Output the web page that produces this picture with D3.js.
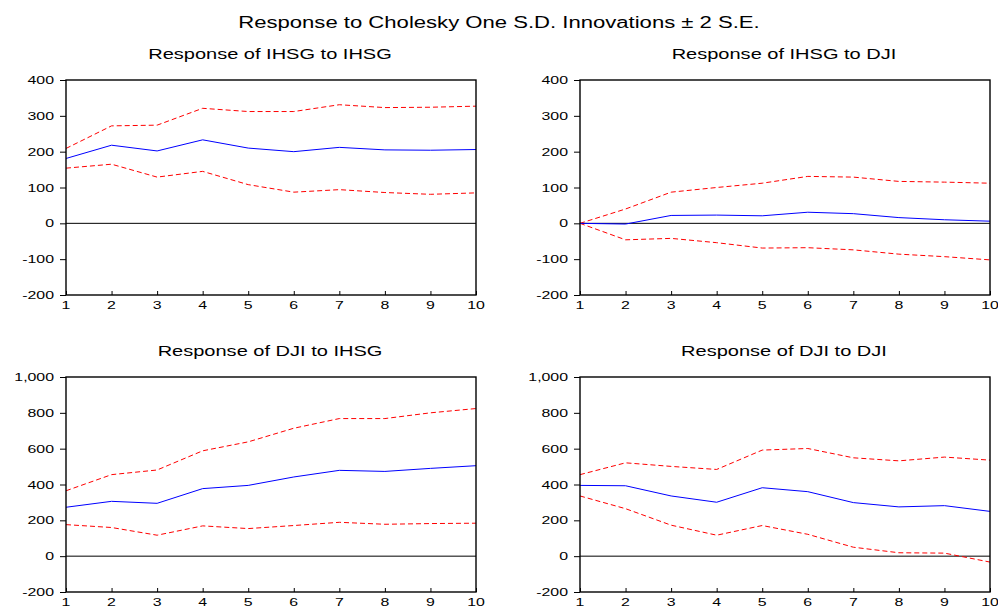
<!DOCTYPE html>
<html>
<head>
<meta charset="utf-8">
<script src="https://cdn.jsdelivr.net/npm/d3@7"></script>
<style>
  body { margin: 0; background: #fff; }
  text { font-family: "Liberation Sans", Arial, sans-serif; fill: #000; }
</style>
</head>
<body>
<svg width="998" height="611"></svg>
<script>
const periods = [1, 2, 3, 4, 5, 6, 7, 8, 9, 10]

// Response of IHSG to IHSG
const ihsgIhsg = [181, 218, 202, 233, 210, 200, 212, 205, 204, 206]
const ihsgIhsgUp = [209, 272, 274, 321, 312, 312, 331, 323, 324, 327]
const ihsgIhsgLo = [154, 165, 129, 145, 108, 87, 94, 86, 81, 85]

// Response of IHSG to DJI
const ihsgDji = [0, -2, 22, 23, 21, 31, 27, 16, 10, 6]
const ihsgDjiUp = [0, 40, 87, 100, 112, 131, 129, 117, 115, 112]
const ihsgDjiLo = [0, -46, -42, -54, -69, -68, -74, -86, -93, -102]

// Response of DJI to IHSG
const djiIhsg = [273, 306, 295, 377, 395, 442, 479, 473, 490, 505]
const djiIhsgUp = [365, 455, 481, 588, 638, 714, 768, 768, 800, 824]
const djiIhsgLo = [176, 160, 117, 169, 154, 171, 189, 178, 182, 184]

// Response of DJI to DJI
const djiDji = [395, 393, 336, 301, 382, 360, 299, 275, 282, 250]
const djiDjiUp = [455, 521, 501, 484, 592, 601, 549, 532, 553, 536]
const djiDjiLo = [336, 265, 173, 117, 171, 122, 50, 19, 17, -33]

const topTicks = [-200, -100, 0, 100, 200, 300, 400]
const bottomTicks = [-200, 0, 200, 400, 600, 800, 1000]

const svg = d3.select('svg')
const stretch = 1.38   // the reference text is drawn horizontally stretched

// widen glyphs like the reference, keeping the anchor where it is
const widen = sel => sel.each(function () {
    const w = this.getComputedTextLength()
    d3.select(this)
        .attr('textLength', w * stretch)
        .attr('lengthAdjust', 'spacingAndGlyphs')
})

const fmt = d => d3.format(',')(d).replace('\u2212', '-')

svg.append('text')
    .attr('x', 499)
    .attr('y', 28)
    .attr('text-anchor', 'middle')
    .attr('font-size', 16)
    .text('Response to Cholesky One S.D. Innovations \u00b1 2 S.E.')
    .call(widen)

const panels = [
    { title: 'Response of IHSG to IHSG', mid: ihsgIhsg, up: ihsgIhsgUp, lo: ihsgIhsgLo,
      left: 66, top: 80, ticks: topTicks },
    { title: 'Response of IHSG to DJI', mid: ihsgDji, up: ihsgDjiUp, lo: ihsgDjiLo,
      left: 580, top: 80, ticks: topTicks },
    { title: 'Response of DJI to IHSG', mid: djiIhsg, up: djiIhsgUp, lo: djiIhsgLo,
      left: 66, top: 377, ticks: bottomTicks },
    { title: 'Response of DJI to DJI', mid: djiDji, up: djiDjiUp, lo: djiDjiLo,
      left: 580, top: 377, ticks: bottomTicks }
]

const innerWidth = 410
const innerHeight = 215

panels.forEach(p => {
    const g = svg.append('g')
        .attr('transform', `translate(${p.left},${p.top})`)

    const xScale = d3.scaleLinear()
        .domain([1, 10])
        .range([0, innerWidth])

    const yScale = d3.scaleLinear()
        .domain(d3.extent(p.ticks))
        .range([innerHeight, 0])

    g.append('text')
        .attr('x', innerWidth / 2 - 1)
        .attr('y', -21)
        .attr('text-anchor', 'middle')
        .attr('font-size', 14.5)
        .text(p.title)
        .call(widen)

    // tick marks from the axes, labels set as plain text from the same scales
    const yAxis = g.append('g')
        .call(d3.axisLeft(yScale)
            .tickValues(p.ticks)
            .tickSize(6)
            .tickFormat(''))
    yAxis.select('.domain').remove()

    g.selectAll('.y-label')
        .data(p.ticks)
        .enter()
        .append('text')
        .attr('class', 'y-label')
        .attr('x', -12)
        .attr('y', d => yScale(d) + 4)
        .attr('text-anchor', 'end')
        .attr('font-size', 11.5)
        .text(fmt)
        .call(widen)

    const xAxis = g.append('g')
        .attr('transform', `translate(0,${innerHeight})`)
        .call(d3.axisBottom(xScale)
            .tickValues(periods)
            .tickSize(-4)
            .tickFormat(''))
    xAxis.select('.domain').remove()

    g.selectAll('.x-label')
        .data(periods)
        .enter()
        .append('text')
        .attr('class', 'x-label')
        .attr('x', d => xScale(d))
        .attr('y', innerHeight + 13.5)
        .attr('text-anchor', 'middle')
        .attr('font-size', 11.5)
        .text(d3.format('d'))
        .call(widen)

    g.append('line')
        .attr('x1', 0)
        .attr('x2', innerWidth)
        .attr('y1', yScale(0))
        .attr('y2', yScale(0))
        .attr('stroke', '#000')
        .attr('stroke-width', 1)

    const line = d3.line()
        .x((d, i) => xScale(periods[i]))
        .y(d => yScale(d))

    ;[p.up, p.lo].forEach(band => {
        g.append('path')
            .datum(band)
            .attr('d', line)
            .attr('fill', 'none')
            .attr('stroke', '#ff0000')
            .attr('stroke-width', 1)
            .attr('stroke-dasharray', '5,3')
    })

    g.append('path')
        .datum(p.mid)
        .attr('d', line)
        .attr('fill', 'none')
        .attr('stroke', '#0000ff')
        .attr('stroke-width', 1)

    g.append('rect')
        .attr('width', innerWidth)
        .attr('height', innerHeight)
        .attr('fill', 'none')
        .attr('stroke', '#000')
        .attr('stroke-width', 1.4)
})
</script>
</body>
</html>
